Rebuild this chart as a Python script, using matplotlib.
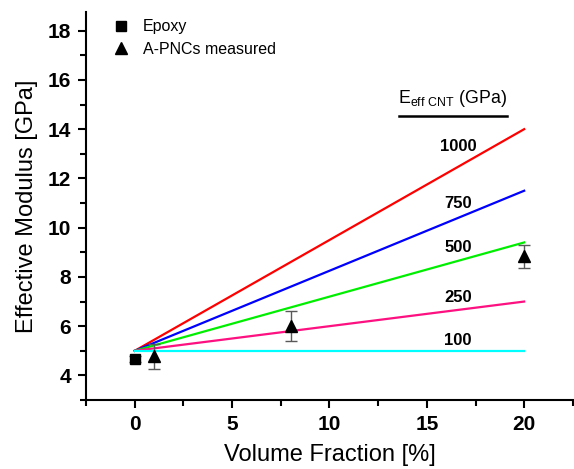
import matplotlib
matplotlib.use("Agg")
import matplotlib.pyplot as plt

plt.rcParams["font.family"] = ["Liberation Sans", "DejaVu Sans"]

# model lines: E_eff CNT label -> modulus at 0 % and 20 %
vf_line = [0, 20]
line_labels = ["1000", "750", "500", "250", "100"]
line_ends = [14.0, 11.5, 9.4, 7.0, 5.0]
line_start = 5.0
line_colors = ["#ff0000", "#0000ff", "#00ee00", "#ff1080", "#00ffff"]
label_y = [13.3, 11.0, 9.2, 7.15, 5.4]

# measured data
epoxy_vf = [0]
epoxy_mod = [4.65]
epoxy_err = [0.12]
pnc_vf = [1, 8, 20]
pnc_mod = [4.78, 6.0, 8.83]
pnc_err = [0.5, 0.6, 0.45]

fig = plt.figure(figsize=(5.74, 4.69), dpi=100)
ax = fig.add_axes([0.150, 0.147, 0.848, 0.827])

for lab, end, col, ly in zip(line_labels, line_ends, line_colors, label_y):
    ax.plot(vf_line, [line_start, end], color=col, lw=1.6, zorder=2)
    ax.text(16.6, ly, lab, ha="center", va="center", fontsize=12,
            fontweight="bold")

ax.errorbar(epoxy_vf, epoxy_mod, yerr=epoxy_err, fmt="none",
            ecolor="0.35", elinewidth=1, capsize=4, zorder=3)
ax.errorbar(pnc_vf, pnc_mod, yerr=pnc_err, fmt="none",
            ecolor="0.35", elinewidth=1, capsize=4, zorder=3)
ax.plot(epoxy_vf, epoxy_mod, "s", color="black", ms=7.5, zorder=4,
        label="Epoxy")
ax.plot(pnc_vf, pnc_mod, "^", color="black", ms=9, zorder=4,
        label="A-PNCs measured")

# header for the line labels
ax.text(16.3, 15.25, r"E$_{\mathregular{eff\ CNT}}$ (GPa)", ha="center",
        va="center", fontsize=12.8)
ax.plot([13.55, 19.1], [14.53, 14.53], color="black", lw=1.8)

ax.set_xlim(-2.5, 22.5)
ax.set_ylim(3, 18.75)
ax.set_xticks([0, 5, 10, 15, 20])
ax.set_xticks([-2.5, 2.5, 7.5, 12.5, 17.5, 22.5], minor=True)
ax.set_yticks([4, 6, 8, 10, 12, 14, 16, 18])
ax.set_yticks([3, 5, 7, 9, 11, 13, 15, 17], minor=True)

for s in ["top", "right"]:
    ax.spines[s].set_visible(False)
for s in ["left", "bottom"]:
    ax.spines[s].set_linewidth(1.5)

ax.tick_params(which="major", direction="out", length=6, width=1.5,
               labelsize=15, pad=5)
ax.tick_params(which="minor", direction="out", length=4, width=1.5)
for t in ax.get_xticklabels() + ax.get_yticklabels():
    t.set_fontweight("bold")

ax.set_xlabel("Volume Fraction [%]", fontsize=17, labelpad=7)
ax.set_ylabel("Effective Modulus [GPa]", fontsize=17, labelpad=7)

leg = ax.legend(loc="upper left", bbox_to_anchor=(0.025, 1.01), frameon=False,
                fontsize=11.5, handletextpad=0.6, borderaxespad=0.3,
                labelspacing=0.45, handlelength=1.5)

fig.savefig("out.png", dpi=100)
